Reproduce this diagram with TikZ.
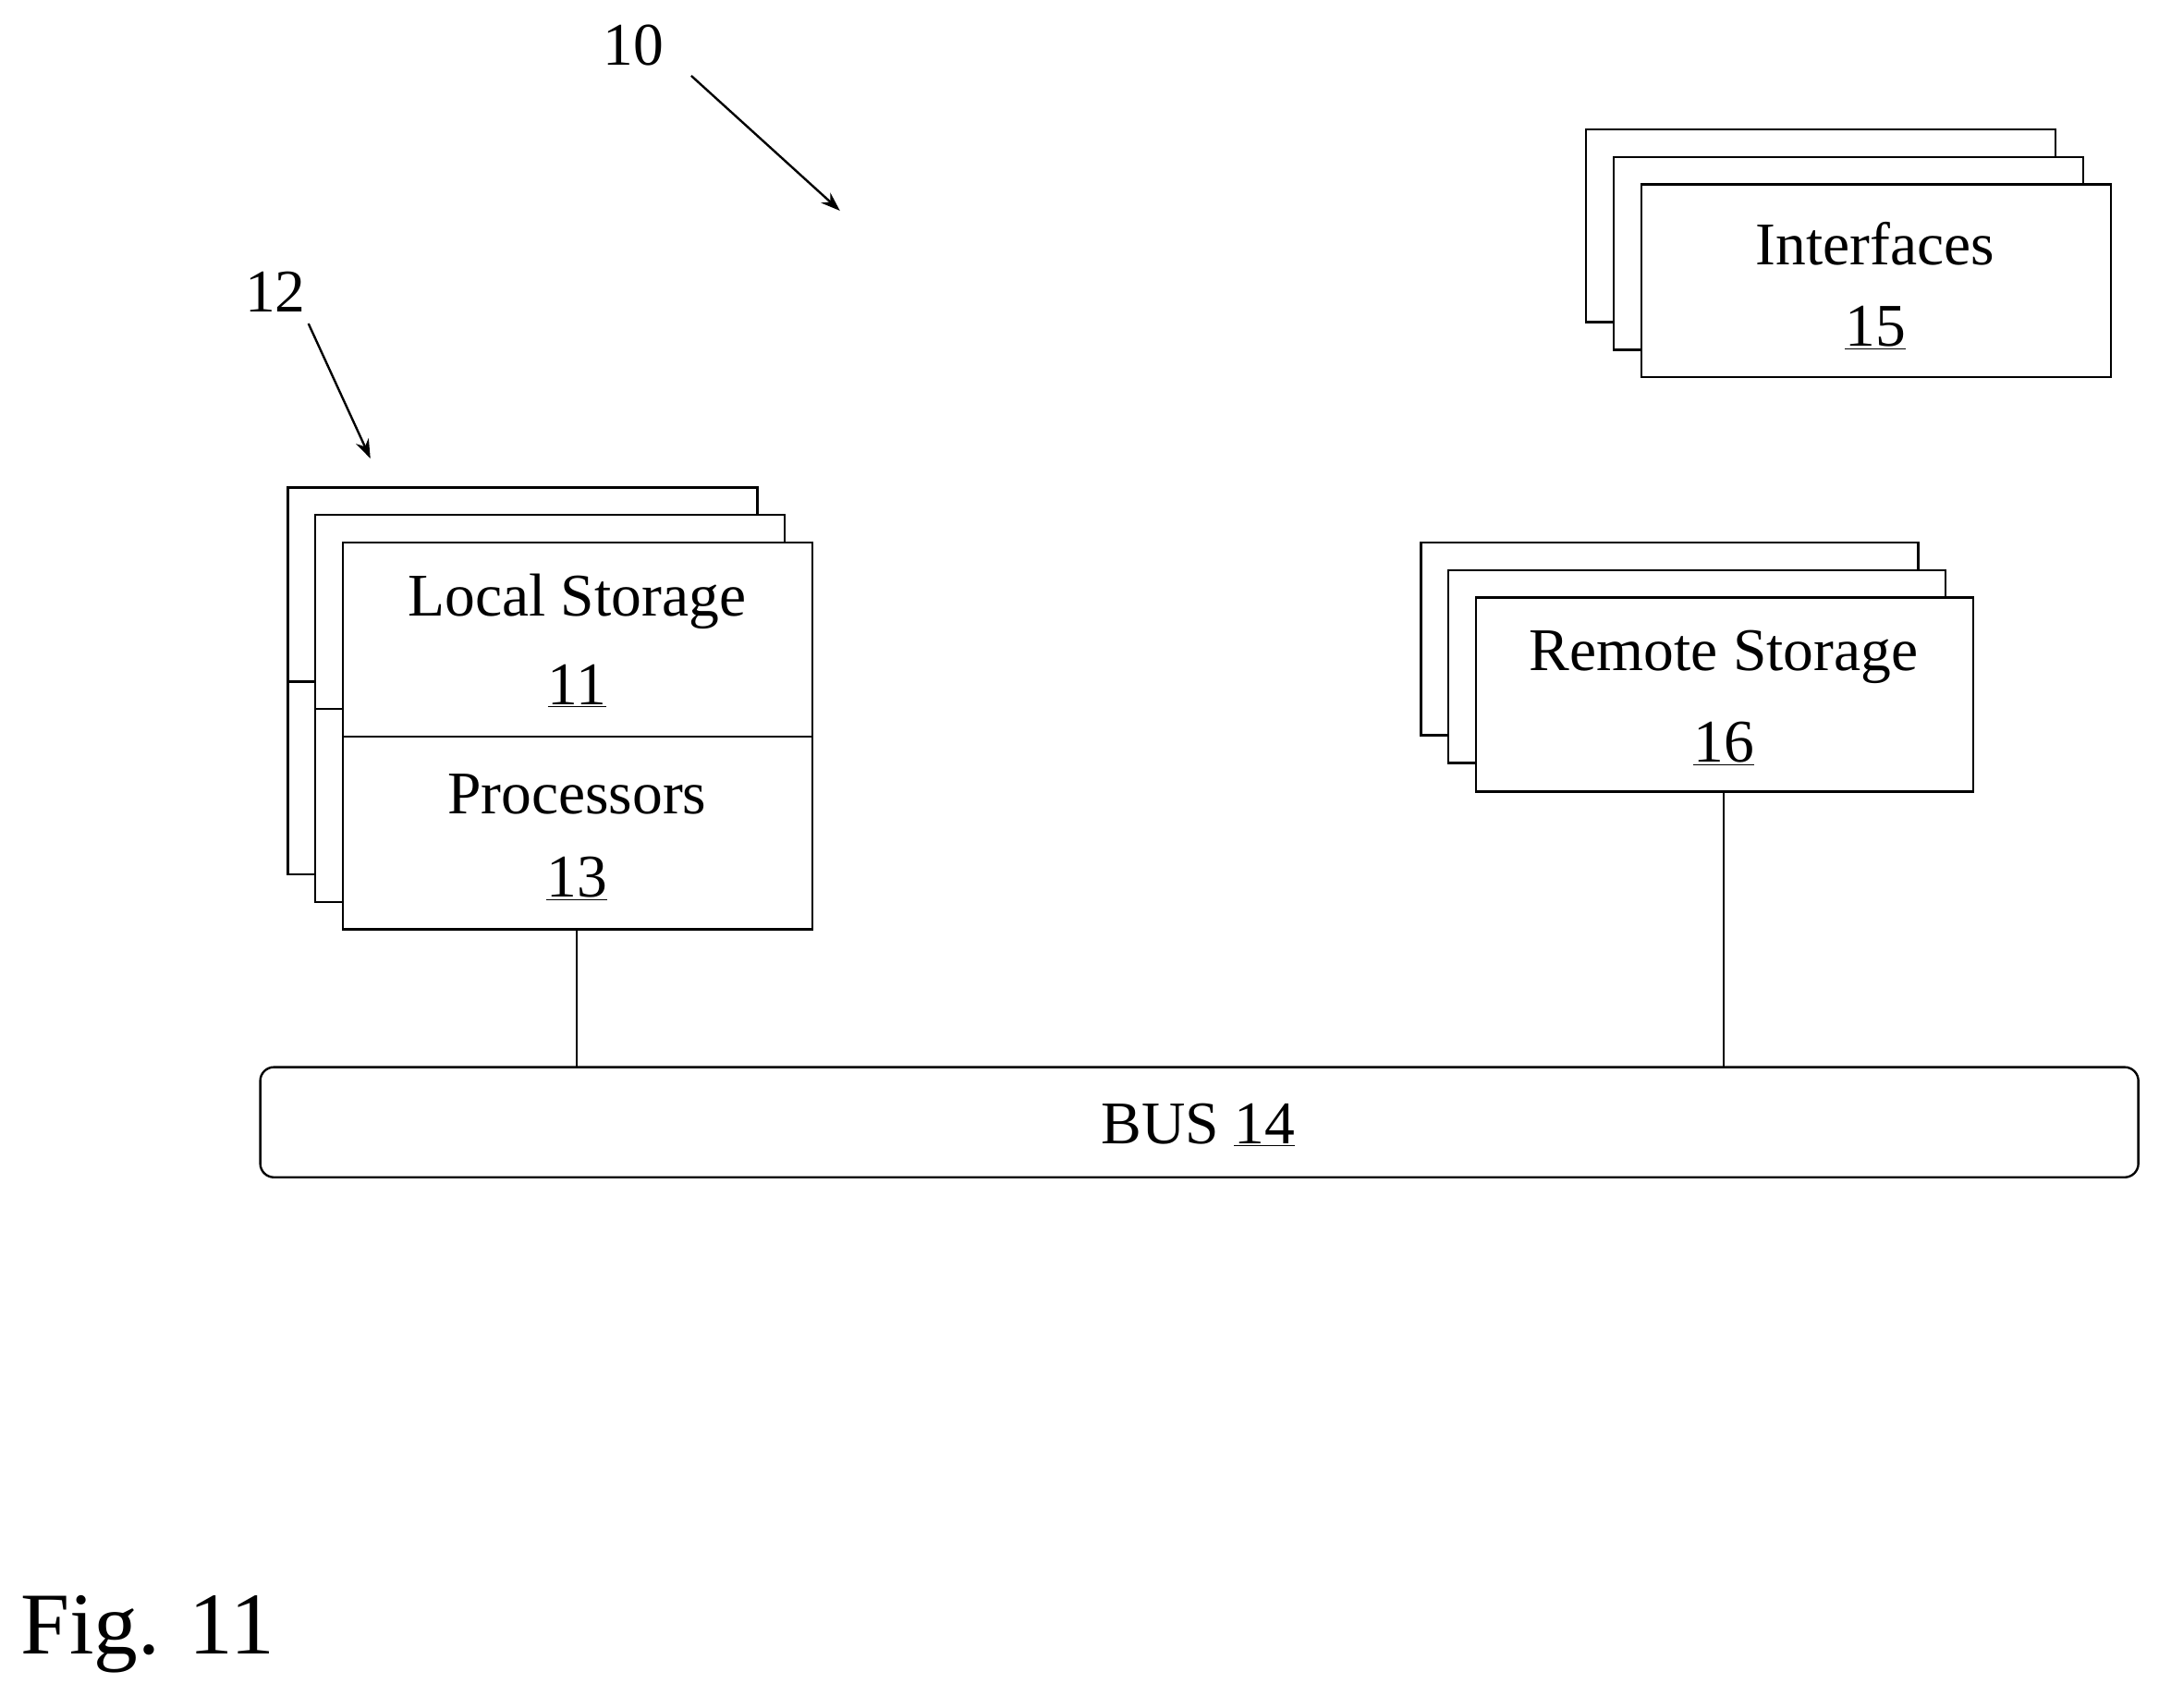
\documentclass[tikz,border=0pt]{standalone}
\usepackage{fontspec}
\setmainfont{Liberation Serif}
\usetikzlibrary{arrows.meta}
\begin{document}
\begin{tikzpicture}[x=1pt,y=-1pt,
 box/.style={draw,line width=1.6pt,fill=white},
 lab/.style={font=\fontsize{44}{50}\selectfont,inner sep=0pt},
 conn/.style={line width=1.6pt},
 arr/.style={line width=1.6pt,-{Stealth[length=14pt,width=10pt]}}]
\useasboundingbox (0,0) rectangle (1568,1240);
% Interfaces
\draw[box] (1152,94) rectangle (1493,234);
\draw[box] (1172,114) rectangle (1513,254);
\draw[box] (1192,134) rectangle (1533,274);
\node[lab] (if) at (1362,177) {Interfaces};
\node[lab] (ifn) at (1362,238) {\underline{15}};
% Local
\draw[box] (209,354) rectangle (550,635);
\draw[line width=1.6pt] (209,495) -- (229,495);
\draw[box] (229,374) rectangle (570,655);
\draw[line width=1.6pt] (229,515) -- (249,515);
\draw[box] (249,394) rectangle (590,675);
\coordinate (lp) at (419,675);
\draw[line width=1.6pt] (249,535) -- (590,535);
\node[lab] (ls) at (419,437) {Local Storage};
\node[lab] (lsn) at (419,498) {\underline{11}};
\node[lab] (pr) at (419,577) {Processors};
\node[lab] (prn) at (419,638) {\underline{13}};
% Remote
\draw[box] (1032,394) rectangle (1393,534);
\draw[box] (1052,414) rectangle (1413,554);
\draw[box] (1072,434) rectangle (1433,575);
\coordinate (rs) at (1252,575);
\node[lab] (rm) at (1252,477) {Remote Storage};
\node[lab] (rmn) at (1252,540) {\underline{16}};
% Bus
\draw[box,rounded corners=10pt] (189,775) rectangle (1553,855);
\node[lab] (bus) at (870,817) {BUS \underline{14}};
\coordinate (b1) at (419,775);
\coordinate (b2) at (1252,775);
\draw[conn] (lp) -- (b1);
\draw[conn] (rs) -- (b2);
% refs
\node[lab] (r10) at (460,33) {10};
\coordinate (a10s) at (502,55);
\coordinate (a10e) at (610,153);
\draw[arr] (a10s) -- (a10e);
\node[lab] (r12) at (200,212) {12};
\coordinate (a12s) at (224,235);
\coordinate (a12e) at (269,333);
\draw[arr] (a12s) -- (a12e);
\node[inner sep=0pt,font=\fontsize{64}{70}\selectfont] (fig) at (107,1187) {Fig. 11};
\end{tikzpicture}
\end{document}
